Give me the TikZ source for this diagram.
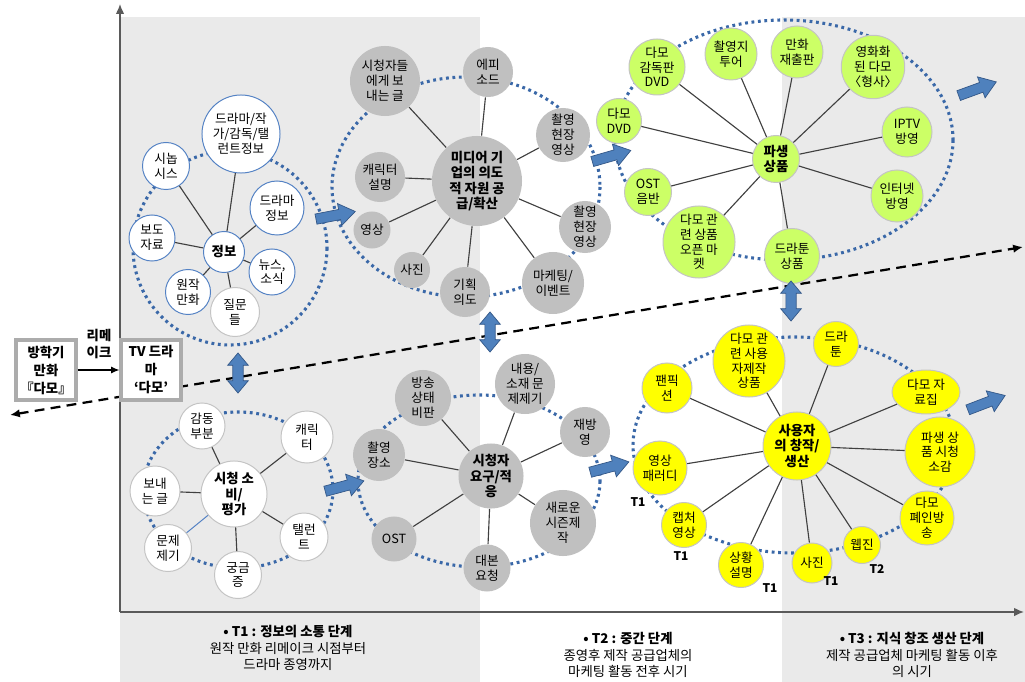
\documentclass[tikz,border=0pt]{standalone}
\usepackage{fontspec}
\setmainfont{Noto Sans CJK KR}
\usetikzlibrary{arrows.meta, shapes.arrows, shapes.geometric}
\definecolor{ringblue}{RGB}{58,104,168}
\definecolor{arrowblue}{RGB}{79,129,189}
\definecolor{arrowedge}{RGB}{52,88,136}
\definecolor{bandgray}{RGB}{234,234,234}
\definecolor{nodegray}{RGB}{192,192,192}
\definecolor{nodelime}{RGB}{204,255,102}
\definecolor{nodeyellow}{RGB}{255,255,0}
\definecolor{rimblue}{RGB}{84,130,196}
\definecolor{rimgray}{RGB}{196,196,196}
\definecolor{spokegray}{RGB}{64,64,64}
\definecolor{axisgray}{RGB}{90,90,90}

\begin{document}
\begin{tikzpicture}[
  x=0.025cm, y=-0.025cm,
  font=\fontsize{9}{10.5}\selectfont,
  bubble/.style={circle, inner sep=0pt, align=center, line width=0.7pt},
  rad/.style={minimum size=#1*0.05cm},
  infonode/.style={bubble, fill=white, draw=rimblue},
  medianode/.style={bubble, fill=nodegray},
  goodsnode/.style={bubble, fill=nodelime, draw=rimgray},
  viewnode/.style={bubble, fill=white, draw=rimgray},
  usernode/.style={bubble, fill=nodeyellow, draw=rimgray},
  hub/.style={font=\fontsize{9.5}{11}\selectfont\bfseries},
  spoke/.style={draw=spokegray, line width=0.8pt},
  ring/.style={draw=ringblue, line width=2.2pt, dash pattern=on 2pt off 2.6pt},
  flow/.style={single arrow, fill=arrowblue, draw=arrowedge, line width=0.5pt,
    inner xsep=0pt, inner ysep=0.12cm, minimum height=1cm,
    single arrow head extend=0.15cm, single arrow tip angle=70},
  updown/.style={double arrow, rotate=90, fill=arrowblue, draw=arrowedge,
    line width=0.5pt, inner xsep=0pt, inner ysep=0.12cm, minimum height=1cm,
    double arrow head extend=0.13cm, double arrow tip angle=80},
  srcbox/.style={rectangle, draw=gray!65, line width=2.2pt, fill=white,
    minimum width=1.5cm, minimum height=1.5cm, inner sep=0pt, align=center,
    font=\fontsize{9.5}{12.8}\selectfont\bfseries},
  axis/.style={draw=axisgray, line width=1pt, -{Latex[length=7pt, width=6pt]}},
  trend/.style={line width=1.6pt, dash pattern=on 7pt off 4.5pt,
    {Latex[length=7pt, width=6pt]}-{Latex[length=7pt, width=6pt]}},
  tmark/.style={font=\fontsize{8.5}{10}\selectfont\bfseries},
  phase/.style={align=center, font=\fontsize{9.5}{11.8}\selectfont}
]
  \useasboundingbox (0,0) rectangle (1025,682);
  \fill[white] (0,0) rectangle (1025,682);

  % Phase bands
  \fill[bandgray] (120,17) rectangle (480,682);
  \fill[bandgray] (782,17) rectangle (1025,682);

  % Axes and time line
  \coordinate (origin) at (120,612);
  \coordinate (ytop) at (120,4);
  \coordinate (xend) at (1024,612);
  \coordinate (trend_lo) at (10,415);
  \coordinate (trend_hi) at (1023,247);
  \draw[axis] (origin) -- (ytop);
  \draw[axis] (origin) -- (xend);
  \draw[trend] (trend_lo) -- (trend_hi);

  % Dotted rings
  \draw[ring] (230,248) ellipse [x radius=97, y radius=97];
  \draw[ring] (466,187) ellipse [x radius=134, y radius=110];
  \draw[ring] (784,140) ellipse [x radius=169, y radius=120];
  \draw[ring] (238,490) ellipse [x radius=95, y radius=78];
  \draw[ring] (479,481) ellipse [x radius=121, y radius=86];
  \draw[ring] (794,445) ellipse [x radius=161, y radius=108];

  % Information cluster
  \node[infonode, hub, rad=20.5] (info) at (224,252) {정보};
  \node[infonode, rad=39] (info_staff) at (241,134) {드라마/작\\가/감독/탤\\런트정보};
  \node[infonode, rad=23.5] (info_synop) at (166,166) {시놉\\시스};
  \node[infonode, rad=27] (info_drama) at (277,208) {드라마\\정보};
  \node[infonode, rad=23] (info_press) at (152,238) {보도\\자료};
  \node[infonode, rad=23] (info_news) at (272,272) {뉴스,\\소식};
  \node[infonode, rad=22.5] (info_comic) at (188,292) {원작\\만화};
  \node[infonode, draw=rimgray, rad=24.5] (info_quest) at (235,312) {질문\\들};
  \draw[spoke] (info) -- (info_staff) (info) -- (info_synop) (info) -- (info_drama)
    (info) -- (info_press) (info) -- (info_news) (info) -- (info_comic) (info) -- (info_quest);

  % Media supply cluster
  \node[medianode, hub, rad=45] (media) at (477,181) {미디어 기\\업의 의도\\적 자원 공\\급/확산};
  \node[medianode, rad=35] (media_letter) at (385,81) {시청자들\\에게 보\\내는 글};
  \node[medianode, rad=25] (media_episode) at (488,72) {에피\\소드};
  \node[medianode, rad=27] (media_set1) at (563,135) {촬영\\현장\\영상};
  \node[medianode, rad=25] (media_char) at (380,177) {캐릭터\\설명};
  \node[medianode, rad=26] (media_set2) at (585,227) {촬영\\현장\\영상};
  \node[medianode, rad=18.5] (media_video) at (372,230) {영상};
  \node[medianode, rad=18] (media_photo) at (412,270) {사진};
  \node[medianode, rad=25] (media_plan) at (465,292) {기획\\의도};
  \node[medianode, rad=31] (media_event) at (553,283) {마케팅/\\이벤트};
  \draw[spoke] (media) -- (media_letter) (media) -- (media_episode) (media) -- (media_set1)
    (media) -- (media_char) (media) -- (media_set2) (media) -- (media_video)
    (media) -- (media_photo) (media) -- (media_plan) (media) -- (media_event);

  % Derived goods cluster
  \node[goodsnode, hub, rad=23.5] (goods) at (776,159) {파생\\상품};
  \node[goodsnode, rad=28] (goods_dir) at (657,67) {다모\\감독판\\DVD};
  \node[goodsnode, rad=26] (goods_tour) at (731,54) {촬영지\\투어};
  \node[goodsnode, rad=26] (goods_comic) at (797,52) {만화\\재출판};
  \node[goodsnode, rad=30] (goods_film) at (873,67) {영화화\\된 다모\\〈형사〉};
  \node[goodsnode, rad=22.5] (goods_dvd) at (619,121) {다모\\DVD};
  \node[goodsnode, rad=25] (goods_iptv) at (907,132) {IPTV\\방영};
  \node[goodsnode, rad=23.5] (goods_ost) at (648,192) {OST\\음반};
  \node[goodsnode, rad=26] (goods_web) at (897,196) {인터넷\\방영};
  \node[goodsnode, rad=36] (goods_market) at (699,242) {다모 관\\련 상품\\오픈 마\\켓};
  \node[goodsnode, rad=27.5] (goods_toon) at (792,256) {드라툰\\상품};
  \draw[spoke] (goods) -- (goods_dir) (goods) -- (goods_tour) (goods) -- (goods_comic)
    (goods) -- (goods_film) (goods) -- (goods_dvd) (goods) -- (goods_iptv)
    (goods) -- (goods_ost) (goods) -- (goods_web) (goods) -- (goods_market)
    (goods) -- (goods_toon);

  % Viewing cluster
  \node[viewnode, hub, rad=33] (view) at (234,494) {시청 소\\비/\\평가};
  \node[viewnode, rad=23] (view_moved) at (202,426) {감동\\부분};
  \node[viewnode, rad=26] (view_char) at (307,437) {캐릭\\터};
  \node[viewnode, rad=25] (view_letter) at (155,491) {보내\\는 글};
  \node[viewnode, rad=23.5] (view_issue) at (168,548) {문제\\제기};
  \node[viewnode, rad=23.5] (view_curious) at (238,575) {궁금\\증};
  \node[viewnode, rad=24] (view_actor) at (304,537) {탤런\\트};
  \draw[spoke] (view) -- (view_moved) (view) -- (view_char) (view) -- (view_letter)
    (view) -- (view_curious) (view) -- (view_actor);
  \draw[rimblue, line width=0.7pt] (view) -- (view_issue);

  % Viewer needs cluster
  \node[medianode, hub, rad=32.5] (needs) at (491,476) {시청자\\요구/적\\응};
  \node[medianode, rad=28] (needs_critic) at (423,398) {방송\\상태\\비판};
  \node[medianode, rad=30] (needs_issue) at (525,384) {내용/\\소재 문\\제제기};
  \node[medianode, rad=25] (needs_rerun) at (585,432) {재방\\영};
  \node[medianode, rad=26] (needs_place) at (379,455) {촬영\\장소};
  \node[medianode, rad=33] (needs_season) at (563,523) {새로운\\시즌제\\작};
  \node[medianode, rad=22.5] (needs_ost) at (394,539) {OST};
  \node[medianode, rad=23.5] (needs_script) at (487,568) {대본\\요청};
  \draw[spoke] (needs) -- (needs_critic) (needs) -- (needs_issue) (needs) -- (needs_rerun)
    (needs) -- (needs_place) (needs) -- (needs_season) (needs) -- (needs_ost)
    (needs) -- (needs_script);

  % User creation cluster
  \node[usernode, hub, rad=34] (user) at (797,446) {사용자\\의 창작/\\생산};
  \node[usernode, rad=36] (user_goods) at (749,361) {다모 관\\련 사용\\자제작\\상품};
  \node[usernode, rad=22.5] (user_toon) at (836,344) {드라\\툰};
  \node[usernode, rad=25] (user_fanfic) at (667,388) {팬픽\\션};
  \node[usernode, ellipse, minimum width=1.7cm, minimum height=1.1cm] (user_book) at (926,392) {다모 자\\료집};
  \node[usernode, rad=27] (user_parody) at (660,468) {영상\\패러디};
  \node[usernode, rad=35] (user_review) at (940,452) {파생 상\\품 시청\\소감};
  \node[usernode, rad=22.5] (user_capture) at (684,525) {캡처\\영상};
  \node[usernode, rad=27] (user_fanshow) at (927,518) {다모\\폐인방\\송};
  \node[usernode, rad=22.5] (user_scene) at (741,565) {상황\\설명};
  \node[usernode, rad=20] (user_photo) at (812,563) {사진};
  \node[usernode, rad=18.5] (user_zine) at (862,545) {웹진};
  \draw[spoke] (user) -- (user_goods) (user) -- (user_toon) (user) -- (user_fanfic)
    (user) -- (user_book) (user) -- (user_parody) (user) -- (user_review)
    (user) -- (user_capture) (user) -- (user_fanshow) (user) -- (user_scene)
    (user) -- (user_photo) (user) -- (user_zine);

  % Stage marks
  \node[tmark] (t_parody) at (638,502) {T1};
  \node[tmark] (t_capture) at (681,556) {T1};
  \node[tmark] (t_scene) at (770,588) {T1};
  \node[tmark] (t_photo) at (831,581) {T1};
  \node[tmark] (t_zine) at (877,569) {T2};

  % Block arrows
  \node[flow, rotate=11] (flow_info) at (332,216) {};
  \node[flow, rotate=16] (flow_media) at (608,157) {};
  \node[flow, rotate=20] (flow_goods) at (974,90) {};
  \node[flow, rotate=15] (flow_view) at (341,487) {};
  \node[flow, rotate=15] (flow_needs) at (606,468) {};
  \node[flow, rotate=21] (flow_user) at (983,404) {};
  \node[updown] (link_left) at (238,373) {};
  \node[updown] (link_mid) at (490,332) {};
  \node[updown] (link_right) at (791,301) {};

  % Source boxes
  \node[srcbox] (manhwa) at (46,370) {방학기\\만화\\『다모』};
  \node[srcbox] (drama) at (151,370) {TV 드라\\마\\‘다모’};
  \draw[-{Latex[length=6pt, width=5pt]}, line width=0.8pt] (manhwa) -- (drama);
  \node[align=center, font=\fontsize{9.5}{12.5}\selectfont\bfseries] (remake) at (99,344) {리메\\이크};

  % Phase notes
  \node[phase] (phase_one) at (288,648) {\textbf{• T1 : 정보의 소통 단계}\\원작 만화 리메이크 시점부터\\드라마 종영까지};
  \node[phase] (phase_two) at (628,655) {\textbf{• T2 : 중간 단계}\\종영후 제작 공급업체의\\마케팅 활동 전후 시기};
  \node[phase] (phase_three) at (912,655) {\textbf{• T3 : 지식 창조 생산 단계}\\제작 공급업체 마케팅 활동 이후\\의 시기};
\end{tikzpicture}
\end{document}
